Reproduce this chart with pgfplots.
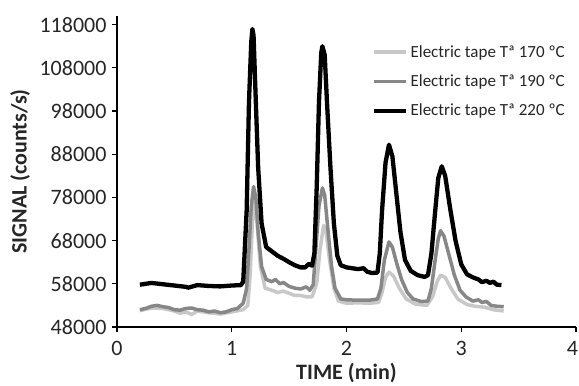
\documentclass[border=0pt]{standalone}
\usepackage{pgfplots}
\pgfplotsset{compat=1.18}
\usepackage{fontspec}
\setmainfont{Carlito}
\definecolor{lg}{RGB}{200,200,200}
\definecolor{dg}{RGB}{135,135,135}
\begin{document}
\begin{tikzpicture}[x=1pt,y=1pt]
\path[use as bounding box] (0,0) rectangle (579,386);
\begin{axis}[
  at={(117pt,59pt)}, anchor=south west,
  scale only axis, width=459pt, height=311pt,
  xmin=0, xmax=4, ymin=48000, ymax=120000,
  axis lines=left, axis line style={-, line width=1.3pt},
  xtick={0,1,2,3,4},
  xticklabels={0,1,2,3,\hspace*{-7pt}4},
  ytick={48000,58000,68000,78000,88000,98000,108000,118000},
  scaled ticks=false,
  tick align=outside, major tick length=5pt,
  tick style={line width=1.2pt, black},
  /pgf/number format/assume math mode=true,
  /pgf/number format/fixed,
  /pgf/number format/precision=0,
  /pgf/number format/set thousands separator={},
  ticklabel style={font=\fontsize{22}{24}\selectfont, text=black!85},
  xticklabel style={yshift=-6pt},
  yticklabel style={xshift=-2pt},
  xlabel={\bfseries TIME (min)},
  ylabel={\bfseries SIGNAL (counts/s)},
  label style={font=\fontsize{22}{24}\selectfont, text=black!85},
  xlabel style={at={(axis description cs:0.5,-0.168)}, anchor=base},
  ylabel style={at={(axis description cs:-0.211,0.5)}, anchor=center},
  legend style={draw=none, fill=none, at={(axis cs:3.93,113900)}, anchor=north east,
    font=\fontsize{17}{19}\selectfont, row sep=12pt, inner sep=1pt,
    legend cell align=left, text=black!85},
  legend image code/.code={\draw[#1] (0pt,0pt) -- (32pt,0pt);},
]
\addplot[lg, line width=3.5pt, line join=round] coordinates {
(0.20,51800)(0.30,52400)(0.40,52300)(0.50,51700)(0.55,51200)(0.60,51500)(0.65,50900)
(0.70,51700)(0.80,51300)(0.90,51000)(1.00,51500)(1.10,52000)(1.14,53000)(1.16,60000)
(1.18,72000)(1.20,77500)(1.22,72000)(1.25,62000)(1.29,57000)(1.35,56500)(1.40,56000)
(1.45,56300)(1.50,55800)(1.55,55300)(1.60,55300)(1.65,55000)(1.70,55000)(1.74,58000)
(1.77,66000)(1.80,71500)(1.82,70500)(1.85,64000)(1.89,57000)(1.93,54000)(2.00,53500)
(2.10,53600)(2.20,53500)(2.28,53700)(2.31,56000)(2.34,59500)(2.37,60700)(2.41,59800)
(2.46,57000)(2.52,54500)(2.60,53300)(2.70,53000)(2.75,55000)(2.79,58500)(2.82,60000)
(2.86,59500)(2.91,57000)(2.97,54500)(3.05,53200)(3.12,52800)(3.20,52600)(3.28,52000)
(3.37,51700)
};
\addlegendentry{Electric tape Tª 170 ºC}
\addplot[dg, line width=3.5pt, line join=round] coordinates {
(0.20,52000)(0.25,52300)(0.30,52800)(0.35,53000)(0.40,52700)(0.45,52500)(0.50,52000)
(0.55,51900)(0.60,52300)(0.65,52400)(0.70,52000)(0.75,51900)(0.80,51500)(0.85,51700)
(0.90,51300)(0.95,51500)(1.00,52000)(1.05,52300)(1.10,53500)(1.13,57000)(1.15,66000)
(1.17,76000)(1.19,80500)(1.21,78000)(1.23,70000)(1.26,62000)(1.30,59000)(1.35,58500)
(1.38,59000)(1.42,58000)(1.45,58300)(1.50,57400)(1.55,57000)(1.60,56800)(1.65,57300)
(1.68,56500)(1.71,57800)(1.73,65000)(1.76,76000)(1.79,80200)(1.81,78500)(1.84,70000)
(1.87,62000)(1.90,57000)(1.95,54500)(2.00,54300)(2.10,54200)(2.20,54200)(2.27,54500)
(2.30,57000)(2.33,63500)(2.37,67700)(2.40,66500)(2.44,62500)(2.48,59000)(2.53,56000)
(2.58,54500)(2.65,53900)(2.71,54000)(2.74,57000)(2.77,63000)(2.80,68500)(2.82,70300)
(2.85,69000)(2.89,65000)(2.94,60000)(2.99,56500)(3.04,55000)(3.10,54000)(3.15,54300)
(3.18,53700)(3.22,53900)(3.26,53000)(3.31,52800)(3.37,52700)
};
\addlegendentry{Electric tape Tª 190 ºC}
\addplot[black, line width=4.3pt, line join=round] coordinates {
(0.20,57800)(0.30,58200)(0.40,57900)(0.50,57600)(0.60,57300)(0.62,57100)(0.70,57700)
(0.80,57500)(0.90,57400)(1.00,57600)(1.08,57700)(1.10,58500)(1.13,75000)(1.15,100000)
(1.17,114000)(1.18,117000)(1.19,115500)(1.21,100000)(1.23,85000)(1.26,72000)(1.30,66500)
(1.35,65500)(1.40,64500)(1.45,63800)(1.50,63000)(1.55,62300)(1.60,61800)(1.64,61800)
(1.67,62600)(1.70,62200)(1.72,65000)(1.74,80000)(1.76,100000)(1.78,111500)(1.79,113000)
(1.81,111000)(1.83,100000)(1.86,85000)(1.89,72000)(1.92,64500)(1.95,62300)(2.00,61800)
(2.05,61600)(2.10,61400)(2.15,61600)(2.18,60800)(2.22,60500)(2.27,60600)(2.29,65000)
(2.31,75000)(2.34,86000)(2.37,90200)(2.40,87500)(2.43,80000)(2.47,70000)(2.51,63500)
(2.56,61000)(2.62,60000)(2.68,59600)(2.71,60000)(2.74,65000)(2.77,74000)(2.80,82500)
(2.83,85200)(2.86,83000)(2.90,76000)(2.95,68000)(3.00,62500)(3.05,60200)(3.10,59500)
(3.15,59000)(3.18,58400)(3.22,58700)(3.25,58200)(3.28,58500)(3.31,57800)(3.35,57700)
};
\addlegendentry{Electric tape Tª 220 ºC}
\end{axis}
\end{tikzpicture}
\end{document}
